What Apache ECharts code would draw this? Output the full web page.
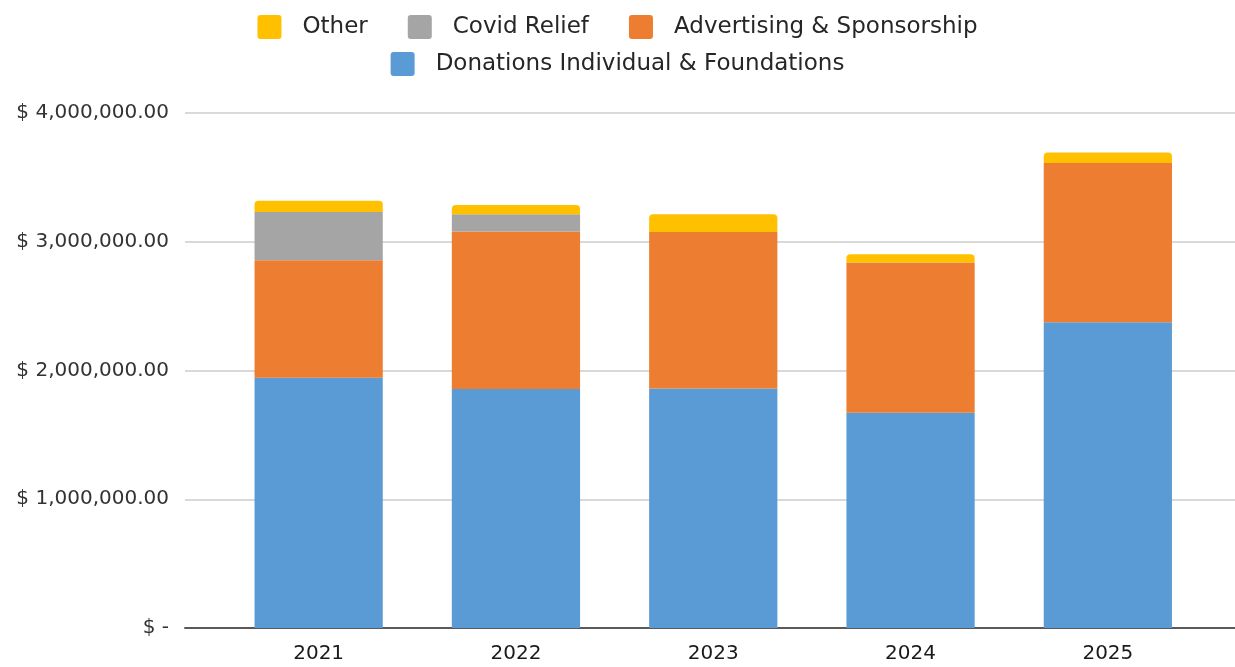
<!DOCTYPE html>
<html>
<head>
<meta charset="utf-8">
<script src="https://cdn.jsdelivr.net/npm/echarts@6/dist/echarts.min.js"></script>
<style>
  html, body { margin: 0; padding: 0; background: #fff; }
  #chart { width: 1235px; height: 667px; }
</style>
</head>
<body>
<div id="chart"></div>
<script>
// data
const years = ['2021', '2022', '2023', '2024', '2025']
const donations = [1943000, 1857000, 1860000, 1671000, 2374000]
const advertising = [913000, 1222000, 1216000, 1167000, 1237000]
const covidRelief = [376000, 135000, 0, 0, 0]
const other = [86000, 72000, 138000, 65000, 83000]
const yTicks = [0, 1000000, 2000000, 3000000, 4000000]

const font = 'DejaVu Sans'

const fmtMoney = (v) => {
  if (v === 0) return '$ -'
  return '$ ' + v.toLocaleString('en-US', { minimumFractionDigits: 2, maximumFractionDigits: 2 })
}

const chart = echarts.init(document.getElementById('chart'))

const barSeries = (name, data, color, radius) => ({
  name: name,
  type: 'bar',
  stack: 'total',
  xAxisIndex: 1,
  yAxisIndex: 1,
  barWidth: '65%',
  data: data,
  itemStyle: { color: color, borderRadius: radius || 0 }
})

// square legend marker with slightly rounded corners
const squareIcon = 'path://M3,0 H21 A3,3 0 0 1 24,3 V21 A3,3 0 0 1 21,24 H3 A3,3 0 0 1 0,21 V3 A3,3 0 0 1 3,0 Z'
const legendText = { fontFamily: font, fontSize: 23, color: '#262626', padding: [0, 0, 0, 16] }

const option = {
  animation: false,
  legend: [
    {
      data: ['Other', 'Covid Relief', 'Advertising & Sponsorship'],
      top: 10,
      left: 'center',
      itemWidth: 24,
      itemHeight: 24,
      itemGap: 40,
      icon: squareIcon,
      textStyle: legendText
    },
    {
      data: ['Donations Individual & Foundations'],
      top: 47,
      left: 'center',
      itemWidth: 24,
      itemHeight: 24,
      icon: squareIcon,
      textStyle: legendText
    }
  ],
  grid: [
    { left: 185, right: 0, top: 113, bottom: 39 },
    { left: 220, right: 28.5, top: 113, bottom: 39 }
  ],
  xAxis: [
    {
      type: 'category',
      gridIndex: 0,
      data: years,
      axisLine: { lineStyle: { color: '#595959', width: 2 } },
      axisTick: { show: false },
      axisLabel: { show: false }
    },
    {
      type: 'category',
      gridIndex: 1,
      data: years,
      axisLine: { show: false },
      axisTick: { show: false },
      axisLabel: { fontFamily: font, fontSize: 20, color: '#1a1a1a', margin: 16 }
    }
  ],
  yAxis: [
    {
      type: 'value',
      gridIndex: 0,
      min: yTicks[0],
      max: yTicks[yTicks.length - 1],
      interval: 1000000,
      axisLine: { show: false },
      axisTick: { show: false },
      splitLine: { lineStyle: { color: '#d9d9d9', width: 2 } },
      axisLabel: {
        fontFamily: font,
        fontSize: 20,
        color: '#333333',
        margin: 16,
        formatter: fmtMoney
      }
    },
    {
      type: 'value',
      gridIndex: 1,
      min: yTicks[0],
      max: yTicks[yTicks.length - 1],
      interval: 1000000,
      show: false
    }
  ],
  series: [
    barSeries('Donations Individual & Foundations', donations, '#5b9bd5'),
    barSeries('Advertising & Sponsorship', advertising, '#ed7d31'),
    barSeries('Covid Relief', covidRelief, '#a5a5a5'),
    barSeries('Other', other, '#ffc000', [4, 4, 0, 0])
  ]
}

chart.setOption(option)
</script>
</body>
</html>
